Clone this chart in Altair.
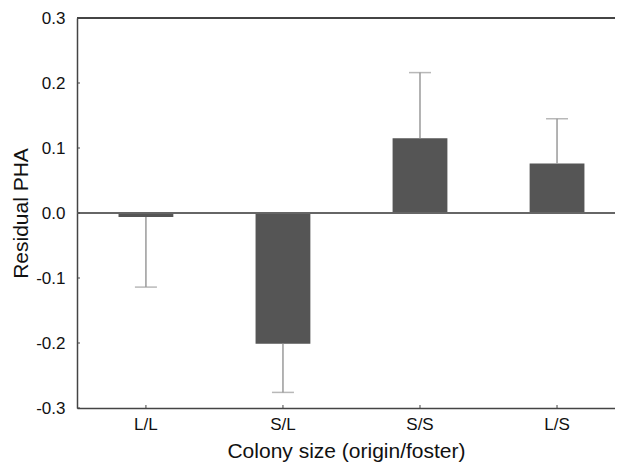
import altair as alt
import pandas as pd

categories = ["L/L", "S/L", "S/S", "L/S"]
means = [-0.006, -0.201, 0.115, 0.076]
err_ends = [-0.114, -0.276, 0.216, 0.145]
y_ticks = [-0.3, -0.2, -0.1, 0.0, 0.1, 0.2, 0.3]

df = pd.DataFrame({"cat": categories, "mean": means, "err": err_ends})
tick_df = pd.DataFrame({"v": y_ticks})

W, H = 538, 390
FONT = "Liberation Sans"

xscale = alt.Scale(domain=categories, paddingInner=0.6, paddingOuter=0.263, align=0.576)
yscale = alt.Scale(domain=[-0.3, 0.3], nice=False, zero=False)

x_enc = alt.X("cat:N", scale=xscale, sort=categories,
              axis=alt.Axis(title="Colony size (origin/foster)", labelAngle=0,
                            tickSize=0, labelPadding=8, titlePadding=8,
                            domainColor="#444444", domainWidth=1.5,
                            labelFontSize=17, titleFontSize=21,
                            labelColor="#111111", titleColor="#111111",
                            titleFontWeight="normal", labelFont=FONT, titleFont=FONT))
y_enc = alt.Y("mean:Q", scale=yscale,
              axis=alt.Axis(title="Residual PHA", values=y_ticks,
                            labelExpr="replace(format(datum.value, '.1f'), '\u2212', '-')",
                            tickSize=0, labelPadding=12, titlePadding=4,
                            domainColor="#444444", domainWidth=1.5, grid=False,
                            labelFontSize=17, titleFontSize=21,
                            labelColor="#111111", titleColor="#111111",
                            titleFontWeight="normal", labelFont=FONT, titleFont=FONT))

base = alt.Chart(df)

bars = base.mark_bar(color="#555555").encode(x=x_enc, y=y_enc, y2=alt.datum(0))

err_rule = base.mark_rule(color="#9a9a9a", strokeWidth=1.5).encode(
    x=alt.X("cat:N", scale=xscale, sort=categories),
    y=alt.Y("mean:Q", scale=yscale),
    y2="err:Q",
)

caps = base.mark_tick(color="#9a9a9a", thickness=1.5, size=22).encode(
    x=alt.X("cat:N", scale=xscale, sort=categories),
    y=alt.Y("err:Q", scale=yscale),
)

zero_line = alt.Chart(df).mark_rule(color="#666666", strokeWidth=1.5).encode(
    y=alt.Y("z:Q", scale=yscale),
    x=alt.value(0), x2=alt.value(W),
).transform_calculate(z="0")

top_line = alt.Chart(df).mark_rule(color="#444444", strokeWidth=1.5).encode(
    y=alt.value(0), x=alt.value(0), x2=alt.value(W),
)

y_tick_marks = alt.Chart(tick_df).mark_rule(color="#444444", strokeWidth=1).encode(
    y=alt.Y("v:Q", scale=yscale), x=alt.value(0), x2=alt.value(3),
)

x_tick_marks = base.mark_rule(color="#444444", strokeWidth=1).encode(
    x=alt.X("cat:N", scale=xscale, sort=categories),
    y=alt.value(H), y2=alt.value(H - 3),
)

chart = alt.layer(bars, zero_line, err_rule, caps, top_line, y_tick_marks, x_tick_marks).properties(
    width=W, height=H,
    autosize=alt.AutoSizeParams(type="none"),
    padding={"left": 69, "top": 10, "right": 0, "bottom": 58},
).configure_view(stroke=None).configure(background="white")

chart.save("out.html", embed_options={"renderer": "svg", "actions": False})
